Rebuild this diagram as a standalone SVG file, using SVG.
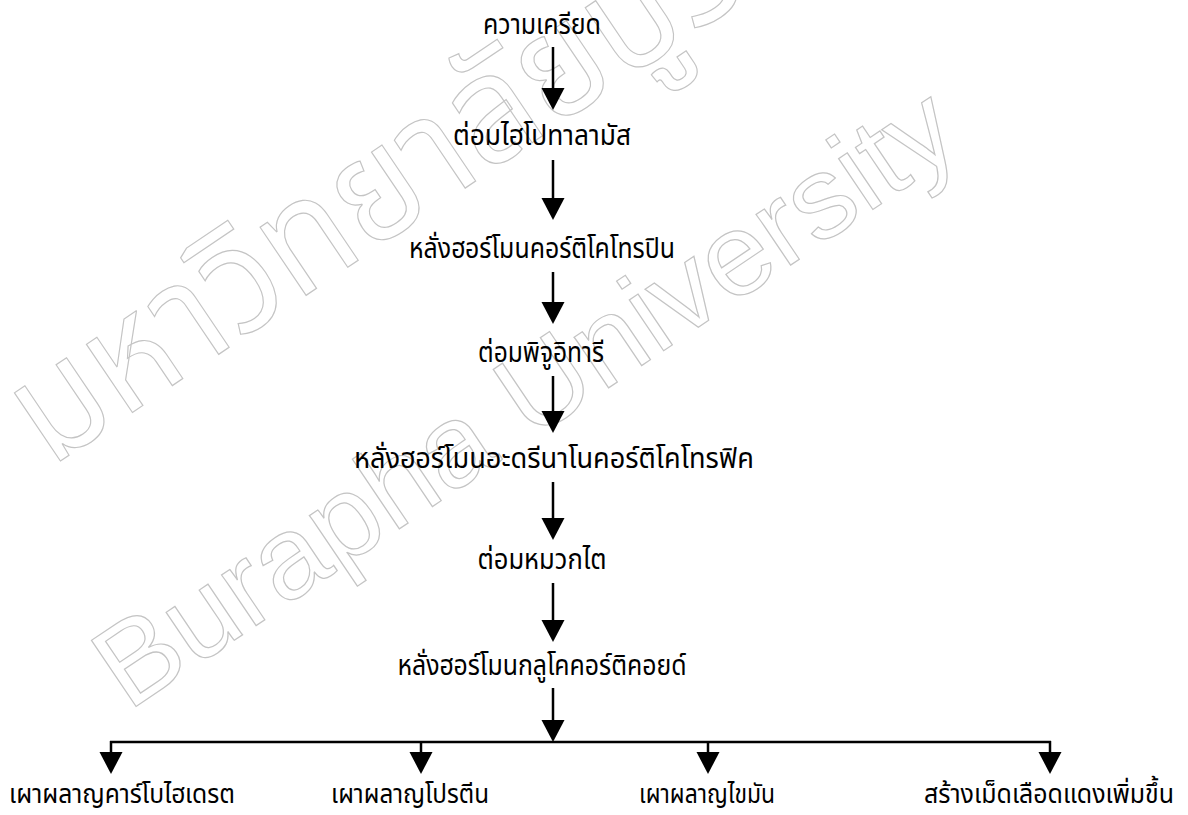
<svg xmlns="http://www.w3.org/2000/svg" width="1188" height="815" viewBox="0 0 1188 815">
<defs>
<style>
.lbl{font-family:"Noto Sans Thai","Noto Sans","DejaVu Sans",sans-serif;font-size:28px;fill:#000;text-anchor:middle}
.bot{font-size:27px}
.wm{fill:none;stroke:#c4c4c4;stroke-width:1.2}
.ln{stroke:#000;stroke-width:2.5;fill:none}
</style>
<path id="tri" d="M-11.5,0 L11.5,0 L0,22 Z" fill="#000"/>
</defs>
<rect width="1188" height="815" fill="#fff"/>
<g id="watermark">
<text class="wm" font-family="Noto Sans Thai, Noto Sans, sans-serif" font-size="150" transform="translate(50,468) rotate(-34)" textLength="1000" lengthAdjust="spacingAndGlyphs">มหาวิทยาลัยบูรพา</text>
<text class="wm" font-family="Liberation Sans, Arial, sans-serif" font-size="116" transform="translate(128,712) rotate(-34)" textLength="1010" lengthAdjust="spacingAndGlyphs">Burapha University</text>
</g>
<g id="connectors">
<line class="ln" x1="553" y1="47" x2="553" y2="90"/><use href="#tri" x="553" y="88"/>
<line class="ln" x1="553" y1="160" x2="553" y2="200"/><use href="#tri" x="553" y="198"/>
<line class="ln" x1="553" y1="272" x2="553" y2="304"/><use href="#tri" x="553" y="302"/>
<line class="ln" x1="553" y1="376" x2="553" y2="413"/><use href="#tri" x="553" y="411"/>
<line class="ln" x1="553" y1="482" x2="553" y2="520"/><use href="#tri" x="553" y="518"/>
<line class="ln" x1="553" y1="583" x2="553" y2="622"/><use href="#tri" x="553" y="620"/>
<line class="ln" x1="553" y1="688" x2="553" y2="722"/><use href="#tri" x="553" y="720"/>
<line class="ln" x1="110" y1="742" x2="1051" y2="742"/>
<line class="ln" x1="111" y1="741" x2="111" y2="754"/><use href="#tri" x="111" y="752"/>
<line class="ln" x1="421" y1="741" x2="421" y2="754"/><use href="#tri" x="421" y="752"/>
<line class="ln" x1="708" y1="741" x2="708" y2="754"/><use href="#tri" x="708" y="752"/>
<line class="ln" x1="1050" y1="741" x2="1050" y2="754"/><use href="#tri" x="1050" y="752"/>
</g>
<g id="n1"><text class="lbl" x="542" y="34" textLength="118" lengthAdjust="spacingAndGlyphs">ความเครียด</text></g>
<g id="n2"><text class="lbl" x="542" y="145" textLength="178" lengthAdjust="spacingAndGlyphs">ต่อมไฮโปทาลามัส</text></g>
<g id="n3"><text class="lbl" x="542" y="258" textLength="266" lengthAdjust="spacingAndGlyphs">หลั่งฮอร์โมนคอร์ติโคโทรปิน</text></g>
<g id="n4"><text class="lbl" x="541" y="362" textLength="126" lengthAdjust="spacingAndGlyphs">ต่อมพิจูอิทารี</text></g>
<g id="n5"><text class="lbl" x="554" y="468" textLength="400" lengthAdjust="spacingAndGlyphs">หลั่งฮอร์โมนอะดรีนาโนคอร์ติโคโทรฟิค</text></g>
<g id="n6"><text class="lbl" x="542" y="569" textLength="129" lengthAdjust="spacingAndGlyphs">ต่อมหมวกไต</text></g>
<g id="n7"><text class="lbl" x="542" y="675" textLength="289" lengthAdjust="spacingAndGlyphs">หลั่งฮอร์โมนกลูโคคอร์ติคอยด์</text></g>
<g id="n8"><text class="lbl bot" x="122" y="803" textLength="226" lengthAdjust="spacingAndGlyphs">เผาผลาญคาร์โบไฮเดรต</text></g>
<g id="n9"><text class="lbl bot" x="410" y="803" textLength="158" lengthAdjust="spacingAndGlyphs">เผาผลาญโปรตีน</text></g>
<g id="n10"><text class="lbl bot" x="707" y="803" textLength="136" lengthAdjust="spacingAndGlyphs">เผาผลาญไขมัน</text></g>
<g id="n11"><text class="lbl bot" x="1049" y="803" textLength="250" lengthAdjust="spacingAndGlyphs">สร้างเม็ดเลือดแดงเพิ่มขึ้น</text></g>
</svg>
